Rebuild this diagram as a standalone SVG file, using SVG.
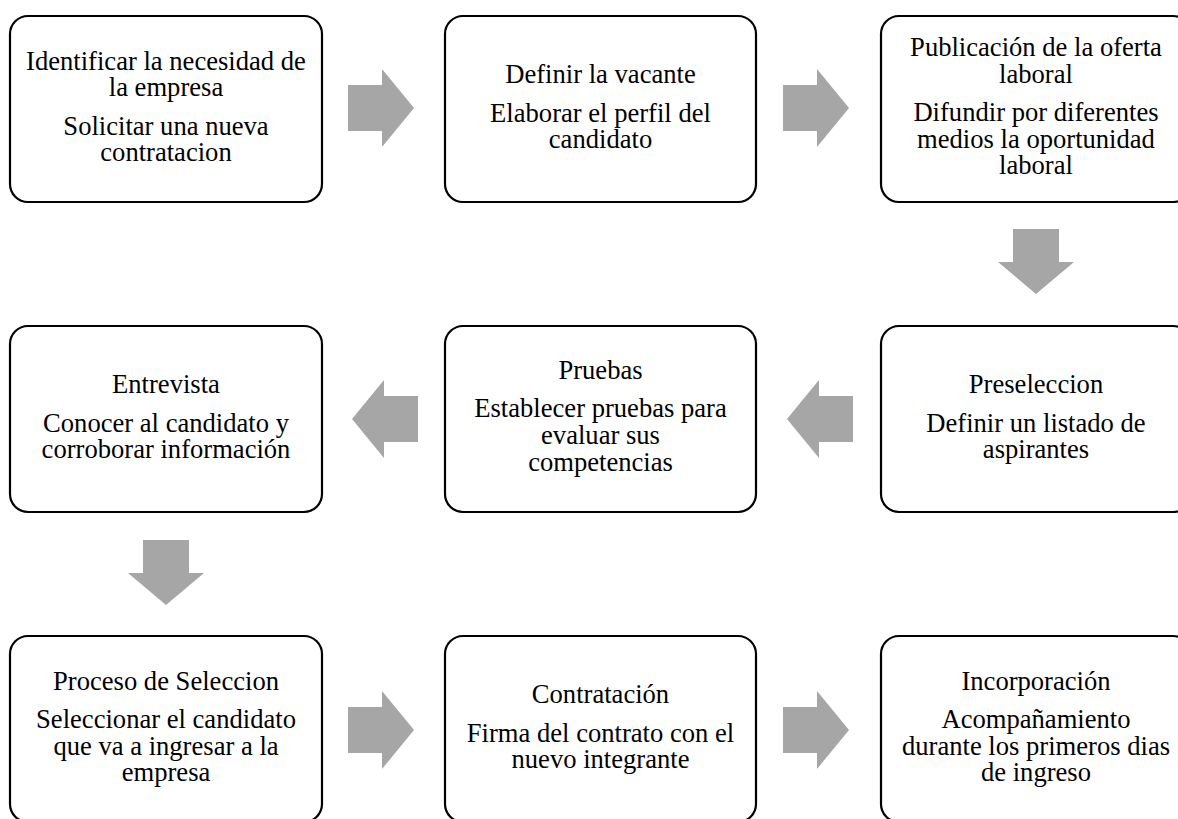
<svg xmlns="http://www.w3.org/2000/svg" width="1178" height="819" viewBox="0 0 1178 819">
<style>
  .box { fill: #ffffff; stroke: #000000; stroke-width: 2.2; }
  .arrow { fill: #a6a6a6; stroke: none; }
  text { font-family: "Liberation Serif", "Times New Roman", serif; font-size: 26.6px; fill: #000000; text-anchor: middle; }
</style>
<defs>
  <path id="arrR" d="M 0 -23 L 34 -23 L 34 -39 L 66 0 L 34 39 L 34 23 L 0 23 Z"/>
  <path id="arrD" d="M -23 0 L 23 0 L 23 33 L 38 33 L 0 65 L -38 33 L -23 33 Z"/>
</defs>
<rect width="1178" height="819" fill="#ffffff"/>

<g id="connectors">
  <use href="#arrR" class="arrow" transform="translate(348,108)"/>
  <use href="#arrR" class="arrow" transform="translate(783,108)"/>
  <use href="#arrD" class="arrow" transform="translate(1036,229)"/>
  <use href="#arrR" class="arrow" transform="translate(853,419) scale(-1,1)"/>
  <use href="#arrR" class="arrow" transform="translate(418,419) scale(-1,1)"/>
  <use href="#arrD" class="arrow" transform="translate(166,540)"/>
  <use href="#arrR" class="arrow" transform="translate(348,730)"/>
  <use href="#arrR" class="arrow" transform="translate(783,730)"/>
</g>

<g id="node-identificar">
  <rect class="box" x="10" y="16" width="312" height="186" rx="18"/>
  <text x="166" y="69.5">Identificar la necesidad de</text>
  <text x="166" y="96.1">la empresa</text>
  <text x="166" y="134.5">Solicitar una nueva</text>
  <text x="166" y="161.1">contratacion</text>
</g>

<g id="node-definir">
  <rect class="box" x="445" y="16" width="311" height="186" rx="18"/>
  <text x="600.5" y="83.3">Definir la vacante</text>
  <text x="600.5" y="121.7">Elaborar el perfil del</text>
  <text x="600.5" y="148.3">candidato</text>
</g>

<g id="node-publicacion">
  <rect class="box" x="881" y="16" width="310" height="186" rx="18"/>
  <text x="1036" y="56">Publicación de la oferta</text>
  <text x="1036" y="82.6">laboral</text>
  <text x="1036" y="121">Difundir por diferentes</text>
  <text x="1036" y="147.6">medios la oportunidad</text>
  <text x="1036" y="174.2">laboral</text>
</g>

<g id="node-entrevista">
  <rect class="box" x="10" y="326" width="312" height="186" rx="18"/>
  <text x="166" y="393.3">Entrevista</text>
  <text x="166" y="431.7">Conocer al candidato y</text>
  <text x="166" y="458.3">corroborar información</text>
</g>

<g id="node-pruebas">
  <rect class="box" x="445" y="326" width="311" height="186" rx="18"/>
  <text x="600.5" y="379">Pruebas</text>
  <text x="600.5" y="417.4">Establecer pruebas para</text>
  <text x="600.5" y="444">evaluar sus</text>
  <text x="600.5" y="470.6">competencias</text>
</g>

<g id="node-preseleccion">
  <rect class="box" x="881" y="326" width="310" height="186" rx="18"/>
  <text x="1036" y="393.3">Preseleccion</text>
  <text x="1036" y="431.7">Definir un listado de</text>
  <text x="1036" y="458.3">aspirantes</text>
</g>

<g id="node-proceso">
  <rect class="box" x="10" y="636" width="312" height="186" rx="18"/>
  <text x="166" y="689.5">Proceso de Seleccion</text>
  <text x="166" y="727.9">Seleccionar el candidato</text>
  <text x="166" y="754.5">que va a ingresar a la</text>
  <text x="166" y="781.1">empresa</text>
</g>

<g id="node-contratacion">
  <rect class="box" x="445" y="636" width="311" height="186" rx="18"/>
  <text x="600.5" y="703.3">Contratación</text>
  <text x="600.5" y="741.7">Firma del contrato con el</text>
  <text x="600.5" y="768.3">nuevo integrante</text>
</g>

<g id="node-incorporacion">
  <rect class="box" x="881" y="636" width="310" height="186" rx="18"/>
  <text x="1036" y="689.5">Incorporación</text>
  <text x="1036" y="727.9">Acompañamiento</text>
  <text x="1036" y="754.5">durante los primeros dias</text>
  <text x="1036" y="781.1">de ingreso</text>
</g>
</svg>
